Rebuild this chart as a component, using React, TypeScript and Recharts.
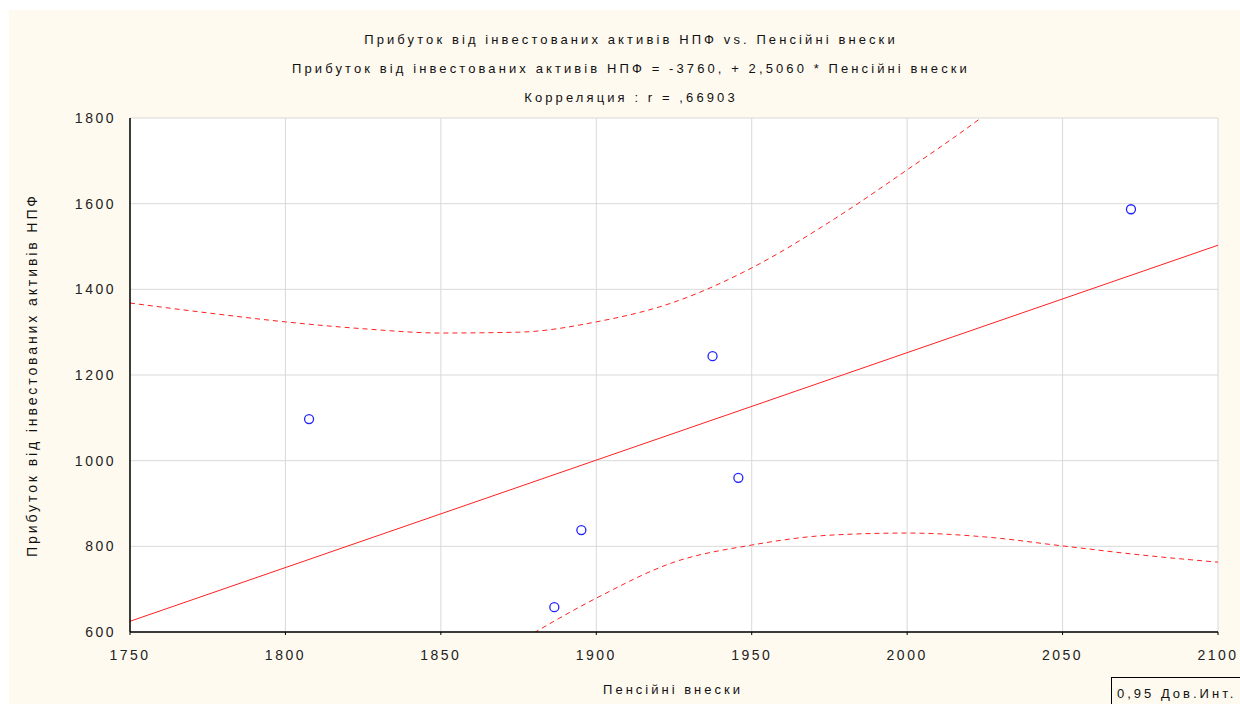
import React from "react";
import {
  ComposedChart,
  XAxis,
  YAxis,
  CartesianGrid,
  Line,
  Scatter,
} from "recharts";

// Observed points: Пенсійні внески (x) vs Прибуток (y)
const pensionContributions = [1807.6, 1886.5, 1895.2, 1937.4, 1945.7, 2072];
const investmentProfit = [1097, 658, 838, 1244, 960, 1587];

// Regression line read at the axis edges
const fitX = [1750, 2100];
const fitY = [625, 1503];

// Upper 95% band
const upperX = [1750, 1775, 1800, 1825, 1850, 1875, 1900, 1925, 1950, 1975, 2000, 2025, 2050];
const upperY = [1368, 1345, 1324, 1308, 1298, 1300, 1324, 1370, 1450, 1557, 1679, 1807, 1954];

// Lower 95% band
const lowerX = [1875, 1900, 1925, 1950, 1975, 2000, 2025, 2050, 2075, 2100];
const lowerY = [577, 679, 763, 803, 826, 831, 822, 801, 780, 763];

const xTicks = [1750, 1800, 1850, 1900, 1950, 2000, 2050, 2100];
const yTicks = [600, 800, 1000, 1200, 1400, 1600, 1800];

const titleLines = [
  "Прибуток від інвестованих активів НПФ vs. Пенсійні внески",
  "Прибуток від інвестованих активів НПФ = -3760, + 2,5060 * Пенсійні внески",
  "Корреляция : r = ,66903",
];

const zip = (xs: number[], ys: number[]) => xs.map((x, i) => ({ x, y: ys[i] }));

const scatterData = zip(pensionContributions, investmentProfit);
const fitData = zip(fitX, fitY);
const upperData = zip(upperX, upperY);
const lowerData = zip(lowerX, lowerY);

const FONT = "'Liberation Sans', Arial, sans-serif";
const tickStyle = { fontFamily: FONT, fontSize: 14, fill: "#222", letterSpacing: 2.5 };

const Ring = (props: any) => {
  const { cx, cy } = props;
  if (cx == null || cy == null) return null;
  return <circle cx={cx} cy={cy} r={4.5} fill="none" stroke="#2222ff" strokeWidth={1.3} />;
};

const textBase: React.CSSProperties = {
  position: "absolute",
  fontSize: 13,
  letterSpacing: 3.1,
  color: "#111",
  lineHeight: "16px",
  whiteSpace: "nowrap",
};

export default function App() {
  const W = 1231;
  const H = 694;
  return (
    <div
      style={{
        position: "fixed",
        left: 9,
        top: 10,
        width: W,
        height: H,
        background: "#fffaf0",
        fontFamily: FONT,
        overflow: "hidden",
      }}
    >
      <ComposedChart
        width={W}
        height={H}
        margin={{ top: 108, right: 22, bottom: 42, left: 0 }}
      >
        <CartesianGrid stroke="#d9d9d9" strokeWidth={1} fill="#ffffff" />
        <XAxis
          dataKey="x"
          type="number"
          domain={[1750, 2100]}
          ticks={xTicks}
          allowDataOverflow
          height={30}
          axisLine={{ stroke: "#000", strokeWidth: 1.5 }}
          tickLine={{ stroke: "#000" }}
          tickSize={3}
          tickMargin={15}
          tick={tickStyle}
        />
        <XAxis
          xAxisId="top"
          dataKey="x"
          type="number"
          orientation="top"
          domain={[1750, 2100]}
          height={0}
          tick={false}
          tickLine={false}
          axisLine={{ stroke: "#666", strokeWidth: 1.5 }}
        />
        <YAxis
          type="number"
          domain={[600, 1800]}
          ticks={yTicks}
          allowDataOverflow
          width={121}
          axisLine={{ stroke: "#000", strokeWidth: 1.5 }}
          tickLine={false}
          tickSize={0}
          tickMargin={14}
          tick={tickStyle}
        />
        <YAxis
          yAxisId="right"
          type="number"
          orientation="right"
          domain={[600, 1800]}
          width={0}
          tick={false}
          tickLine={false}
          axisLine={{ stroke: "#000", strokeWidth: 1.5 }}
        />
        <Line
          data={fitData}
          dataKey="y"
          type="linear"
          stroke="#ff2020"
          strokeWidth={1}
          dot={false}
          activeDot={false}
          isAnimationActive={false}
        />
        <Line
          data={upperData}
          dataKey="y"
          type="monotone"
          stroke="#ff2020"
          strokeWidth={1}
          strokeDasharray="5 4"
          dot={false}
          activeDot={false}
          isAnimationActive={false}
        />
        <Line
          data={lowerData}
          dataKey="y"
          type="monotone"
          stroke="#ff2020"
          strokeWidth={1}
          strokeDasharray="5 4"
          dot={false}
          activeDot={false}
          isAnimationActive={false}
        />
        <Scatter
          data={scatterData}
          dataKey="y"
          shape={<Ring />}
          isAnimationActive={false}
        />
      </ComposedChart>

      {titleLines.map((t, i) => (
        <div
          key={i}
          style={{
            ...textBase,
            left: 0,
            width: 1244,
            top: 22 + i * 29,
            textAlign: "center",
          }}
        >
          {t}
        </div>
      ))}

      <div
        style={{
          ...textBase,
          left: 0,
          width: 1328,
          top: 672,
          textAlign: "center",
          letterSpacing: 3,
        }}
      >
        Пенсійні внески
      </div>

      <div
        style={{
          ...textBase,
          left: 23 - 200,
          top: 365 - 8,
          width: 400,
          textAlign: "center",
          fontSize: 14,
          letterSpacing: 2.9,
          transform: "rotate(-90deg)",
        }}
      >
        Прибуток від інвестованих активів НПФ
      </div>

      <div
        style={{
          ...textBase,
          left: 1102,
          top: 667,
          width: 140,
          height: 40,
          border: "1.5px solid #000",
          boxSizing: "border-box",
          letterSpacing: 3,
          paddingLeft: 5,
          paddingTop: 8,
          lineHeight: "normal",
        }}
      >
        0,95 Дов.Инт.
      </div>
    </div>
  );
}
